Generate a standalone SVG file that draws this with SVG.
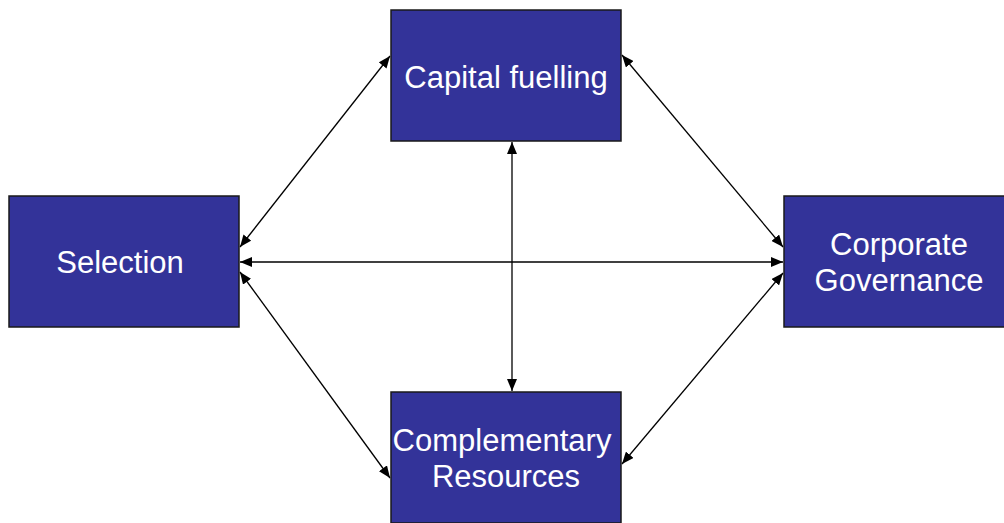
<svg xmlns="http://www.w3.org/2000/svg" width="1004" height="523" viewBox="0 0 1004 523">
  <style>
    .box { fill: #333399; stroke: #1a1a1a; stroke-width: 1.5; }
    .label { fill: #ffffff; font-family: "Liberation Sans", Arial, sans-serif; font-size: 31px; text-anchor: middle; }
    .link { stroke: #000000; stroke-width: 1.3; fill: none; marker-start: url(#head); marker-end: url(#head); }
  </style>
  <defs>
    <marker id="head" viewBox="0 0 12 10" refX="12" refY="5" markerWidth="12" markerHeight="10" markerUnits="userSpaceOnUse" orient="auto-start-reverse">
      <path d="M0,0 L12,5 L0,10 Z" fill="#000000"/>
    </marker>
  </defs>
  <rect width="1004" height="523" fill="#ffffff"/>

  <g id="connectors">
    <line class="link" x1="512" y1="142" x2="512" y2="391"/>
    <line class="link" x1="240" y1="262" x2="783" y2="262"/>
    <line class="link" x1="240" y1="247" x2="390" y2="56"/>
    <line class="link" x1="240" y1="272" x2="390" y2="478"/>
    <line class="link" x1="622" y1="55" x2="783" y2="247"/>
    <line class="link" x1="622" y1="464" x2="783" y2="273"/>
  </g>

  <g id="capital-fuelling">
    <rect class="box" x="391" y="10" width="230" height="131"/>
    <text class="label" x="506" y="88">Capital fuelling</text>
  </g>

  <g id="selection">
    <rect class="box" x="9" y="196" width="230" height="131"/>
    <text class="label" x="120" y="273">Selection</text>
  </g>

  <g id="corporate-governance">
    <rect class="box" x="784" y="196" width="230" height="131"/>
    <text class="label" x="899" y="255">Corporate</text>
    <text class="label" x="899" y="291">Governance</text>
  </g>

  <g id="complementary-resources">
    <rect class="box" x="391" y="392" width="230" height="131"/>
    <text class="label" x="502" y="451">Complementary</text>
    <text class="label" x="506" y="487">Resources</text>
  </g>
</svg>
